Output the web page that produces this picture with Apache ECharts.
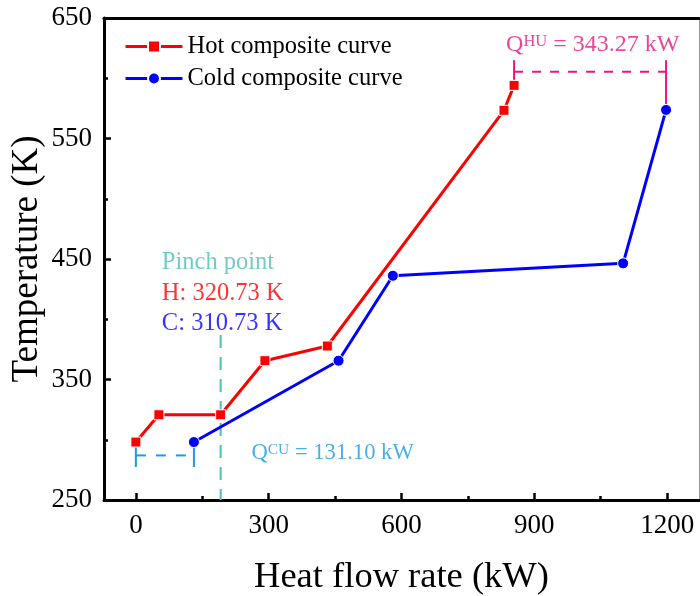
<!DOCTYPE html>
<html>
<head>
<meta charset="utf-8">
<script src="https://cdn.jsdelivr.net/npm/echarts@6/dist/echarts.min.js"></script>
<style>
  html, body { margin: 0; padding: 0; background: #fff; }
  #chart { width: 700px; height: 596px; }
</style>
</head>
<body>
<div id="chart"></div>
<script>
// Composite curves (heat flow rate in kW, temperature in K)
const hotQ  = [0, 52, 191.5, 291.5, 432.5, 831.5, 854.3];
const hotT  = [298.1, 320.73, 320.73, 365.6, 377.8, 573.4, 594.1];
const coldQ = [131.1, 457.8, 580.5, 1100.6, 1197.6];
const coldT = [298.1, 365.6, 436.1, 446.4, 573.7];

// Axis ticks
const xMajorTicks = [0, 300, 600, 900, 1200];
const xMinorTicks = [150, 450, 750, 1050];

// Utility loads and pinch point
const qHU = 343.27;
const qCU = 131.10;
const pinchQ = 191.5;
const pinchHotT = 320.73;
const pinchColdT = 310.73;

const FONT = "'Times New Roman', 'Liberation Serif', serif";
const RED = '#ff0000', BLUE = '#0000ff';
const PINK = '#e8177e', SKY = '#1d9be3', TEAL = '#4fbfb7';

const hotData = hotQ.map((q, i) => [q, hotT[i]]);
const coldData = coldQ.map((q, i) => [q, coldT[i]]);

const hotEnd = hotData[hotData.length - 1];
const coldEnd = coldData[coldData.length - 1];
const hotStart = hotData[0];
const coldStart = coldData[0];

// bracket levels for the utility annotations
const huCapTop = 615, huDash = 605.4;
const cuCapTop = 296.5, cuCapBottom = 277.4, cuDash = 287.0;

function seg(points, color, type, width) {
  return {
    type: 'line', data: points, symbol: 'none', silent: true,
    lineStyle: { color: color, width: width || 2, type: type || 'solid', dashOffset: 0 },
    z: 1
  };
}

function textAt(point, formatter, rich, position) {
  return {
    type: 'scatter', data: [point], symbolSize: 0, silent: true,
    label: {
      show: true, position: position || 'inside', distance: 0,
      formatter: formatter, rich: rich, fontFamily: FONT
    },
    z: 5
  };
}

const chart = echarts.init(document.getElementById('chart'), null, { renderer: 'canvas' });

const axisFont = { fontFamily: FONT, fontSize: 27, color: '#000', formatter: v => String(v) };

chart.setOption({
  animation: false,
  backgroundColor: '#fff',
  grid: { left: 104, right: 1, top: 18, bottom: 96, containLabel: false, outerBoundsMode: 'none' },
  legend: {
    orient: 'vertical', left: 124, top: 34, padding: 0,
    itemWidth: 57, itemHeight: 15, itemGap: 7,
    lineStyle: { width: 3 },
    data: ['Hot composite curve', 'Cold composite curve'],
    textStyle: { fontFamily: FONT, fontSize: 24.5, color: '#000' }
  },
  xAxis: [
    {
      type: 'value', min: -72, max: 1272, position: 'bottom',
      name: 'Heat flow rate (kW)', nameLocation: 'middle', nameGap: 59,
      nameTextStyle: { fontFamily: FONT, fontSize: 36.5, color: '#000' },
      axisLine: { show: true, onZero: false, lineStyle: { color: '#000', width: 3 } },
      axisTick: { show: true, inside: true, length: 7, customValues: xMajorTicks, lineStyle: { color: '#000', width: 2.5 } },
      axisLabel: Object.assign({ margin: 12, customValues: xMajorTicks }, axisFont),
      splitLine: { show: false }
    },
    {
      type: 'value', min: -72, max: 1272, position: 'bottom',
      axisLine: { show: false, onZero: false },
      axisTick: { show: true, inside: true, length: 4, customValues: xMinorTicks, lineStyle: { color: '#000', width: 2.5 } },
      axisLabel: { show: false },
      splitLine: { show: false }
    },
    {
      type: 'value', min: -72, max: 1272, position: 'top',
      axisLine: { show: true, onZero: false, lineStyle: { color: '#000', width: 3 } },
      axisTick: { show: false }, axisLabel: { show: false }, splitLine: { show: false }
    }
  ],
  yAxis: [
    {
      type: 'value', min: 250, max: 650, interval: 100, position: 'left',
      name: 'Temperature (K)', nameLocation: 'middle', nameGap: 58, nameMoveOverlap: false,
      nameTextStyle: { fontFamily: FONT, fontSize: 37, color: '#000' },
      axisLine: { show: true, onZero: false, lineStyle: { color: '#000', width: 3 } },
      axisTick: { show: true, inside: true, length: 7, lineStyle: { color: '#000', width: 2.5 } },
      minorTick: { show: true, splitNumber: 2, length: 4, lineStyle: { color: '#000', width: 2.5 } },
      axisLabel: Object.assign({ margin: 12 }, axisFont),
      splitLine: { show: false }
    },
    {
      type: 'value', min: 250, max: 650, position: 'right',
      axisLine: { show: true, onZero: false, lineStyle: { color: '#9a9a9a', width: 1 } },
      axisTick: { show: false }, axisLabel: { show: false }, splitLine: { show: false }
    }
  ],
  series: [
    {
      name: 'Hot composite curve', type: 'line', data: hotData,
      symbol: 'rect', symbolSize: 10,
      lineStyle: { color: RED, width: 3 },
      itemStyle: { color: RED, borderColor: '#fff', borderWidth: 1 },
      z: 3
    },
    {
      name: 'Cold composite curve', type: 'line', data: coldData,
      symbol: 'circle', symbolSize: 11,
      lineStyle: { color: BLUE, width: 3 },
      itemStyle: { color: BLUE, borderColor: '#fff', borderWidth: 1 },
      z: 3
    },

    // hot utility bracket
    seg([[hotEnd[0], huCapTop], [hotEnd[0], hotEnd[1] + 3]], PINK),
    seg([[coldEnd[0], huCapTop], [coldEnd[0], coldEnd[1] + 3]], PINK),
    seg([[hotEnd[0], huDash], [coldEnd[0], huDash]], PINK, [9, 9]),
    textAt([(hotEnd[0] + coldEnd[0]) / 2 + 6, 627.6],
      '{q|Q}{s|HU}{q| = ' + qHU.toFixed(2) + ' kW}',
      {
        q: { fontFamily: FONT, fontSize: 24, color: PINK },
        s: { fontFamily: FONT, fontSize: 16.5, color: PINK, verticalAlign: 'top' }
      }),

    // cold utility bracket
    seg([[hotStart[0], cuCapTop], [hotStart[0], cuCapBottom]], SKY),
    seg([[coldStart[0], cuCapTop], [coldStart[0], cuCapBottom]], SKY),
    seg([[hotStart[0], cuDash], [coldStart[0], cuDash]], SKY, [10, 10]),
    textAt([261, 289],
      '{q|Q}{s|CU}{q| = ' + qCU.toFixed(2) + ' kW}',
      {
        q: { fontFamily: FONT, fontSize: 22.6, color: SKY },
        s: { fontFamily: FONT, fontSize: 15.5, color: SKY, verticalAlign: 'top' }
      }, 'right'),

    // pinch point
    seg([[pinchQ, 386.9], [pinchQ, 250]], TEAL, [13, 9]),
    textAt([58.7, 447.2], '{t|Pinch point}', { t: { fontFamily: FONT, fontSize: 24.5, color: TEAL } }, 'right'),
    textAt([58.7, 421.6], '{t|H: ' + pinchHotT.toFixed(2) + ' K}', { t: { fontFamily: FONT, fontSize: 24.5, color: RED } }, 'right'),
    textAt([58.7, 396.1], '{t|C: ' + pinchColdT.toFixed(2) + ' K}', { t: { fontFamily: FONT, fontSize: 24.5, color: BLUE } }, 'right')
  ]
});
</script>
</body>
</html>
